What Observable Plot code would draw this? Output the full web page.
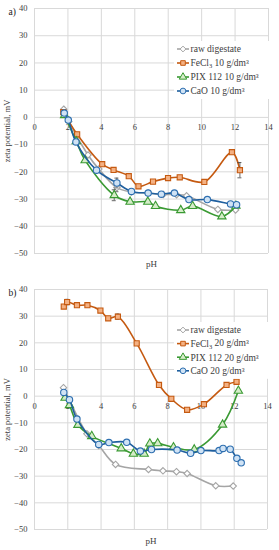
<!DOCTYPE html>
<html><head><meta charset="utf-8">
<script src="https://cdn.jsdelivr.net/npm/d3@7"></script>
<script src="https://cdn.jsdelivr.net/npm/@observablehq/plot@0.6"></script>
<style>
body{margin:0;background:#fff;width:279px;font-family:"Liberation Serif","Times New Roman",serif;}
.panel{position:relative;width:279px;}
.panel svg{display:block;}
.legend{position:absolute;left:0;top:0;pointer-events:none;}
</style></head><body>
<div id="a" class="panel"></div>
<div id="b" class="panel"></div>
<script>
// ---- tick values ----
const xTicks = [0, 2, 4, 6, 8, 10, 12, 14];
const yTicks = [-50, -40, -30, -20, -10, 0, 10, 20, 30, 40];

// ---- panel a) 10 g/dm3 ----
const legendA = ["raw digestate", "FeCl|3| 10 g/dm³", "PIX 112 10 g/dm³", "CaO 10 g/dm³"];
const rawA_pH   = [1.75, 2.05, 3.2, 3.85, 4.93, 5.8, 6.8, 7.7, 8.5, 9.1, 10.97, 12.03];
const rawA_zeta = [3.0, -1.5, -13.8, -19.0, -25.8, -27.4, -27.8, -28.3, -28.4, -28.8, -33.8, -34.0];
const feA_pH    = [1.72, 2.55, 4.05, 4.73, 5.64, 6.22, 7.09, 7.99, 8.69, 10.16, 11.81, 12.29];
const feA_zeta  = [1.9, -6.2, -17.2, -19.3, -21.6, -25.3, -23.6, -22.3, -22.0, -23.7, -12.8, -19.4];
const pixA_pH   = [1.8, 2.5, 3.03, 4.77, 5.72, 6.78, 7.24, 8.75, 9.46, 11.21, 12.05];
const pixA_zeta = [0.8, -8.8, -15.8, -28.6, -31.0, -31.0, -32.6, -34.1, -32.6, -36.4, -32.5];
const caoA_pH   = [1.78, 2.02, 2.48, 3.71, 4.93, 5.8, 6.8, 7.59, 8.37, 9.24, 10.34, 11.73, 12.09];
const caoA_zeta = [1.6, -1.0, -9.0, -19.4, -24.1, -27.2, -27.8, -28.2, -27.8, -30.2, -30.2, -31.8, -32.1];
// error bars a): [series index, pH, zeta, half-width]
const errA_series = [0, 1, 2, 3];
const errA_pH     = [4.93, 12.29, 4.77, 4.93];
const errA_zeta   = [-25.8, -19.4, -28.6, -24.1];
const errA_half   = [1.5, 2.8, 2.0, 1.8];

// ---- panel b) 20 g/dm3 ----
const legendB = ["raw digestate", "FeCl|3| 20 g/dm³", "PIX 112 20 g/dm³", "CaO 20 g/dm³"];
const rawB_pH   = [1.74, 2.1, 3.15, 3.86, 4.87, 6.85, 7.72, 8.53, 9.17, 10.89, 11.94];
const rawB_zeta = [3.2, -1.5, -14.1, -18.5, -25.6, -27.5, -28.0, -28.3, -29.0, -33.6, -33.7];
const feB_pH    = [1.76, 1.96, 2.55, 3.18, 3.96, 4.43, 5.01, 6.14, 7.48, 8.22, 9.17, 10.18, 11.54, 12.14];
const feB_zeta  = [33.6, 35.3, 34.1, 34.1, 32.1, 29.2, 29.8, 19.8, 4.2, -1.0, -5.1, -3.0, 4.2, 5.4];
const pixB_pH   = [1.84, 2.1, 2.61, 3.44, 5.21, 5.94, 6.59, 6.93, 7.4, 8.35, 9.6, 11.3, 12.25];
const pixB_zeta = [-0.6, -3.4, -10.8, -15.0, -19.6, -21.6, -21.6, -17.8, -17.7, -19.2, -20.0, -10.7, 2.0];
const caoB_pH   = [1.76, 2.1, 2.55, 3.86, 4.47, 5.54, 6.36, 7.03, 8.57, 9.38, 10.0, 11.09, 11.33, 11.76, 12.16, 12.42];
const caoB_zeta = [1.4, -1.3, -8.6, -18.1, -17.4, -17.3, -20.6, -20.0, -20.2, -21.4, -20.4, -20.4, -19.6, -19.9, -23.3, -25.0];
const errB_series = [1, 1];
const errB_pH     = [1.96, 5.01];
const errB_zeta   = [35.3, 29.8];
const errB_half   = [1.0, 1.0];

// ---- styles ----
const styles = [
  {line: "#a5a5a5", stroke: "#a5a5a5", fill: "#ffffff", symbol: "diamond2", r: 2.9},
  {line: "#c55a11", stroke: "#c55a11", fill: "#f4b183", symbol: "square", r: 2.9},
  {line: "#3a9a33", stroke: "#3a9a33", fill: "#d5ecc8", symbol: "triangle", r: 3.1},
  {line: "#1f5f9e", stroke: "#2e6fb0", fill: "#d0e3f5", symbol: "circle", r: 3.2}
];

function rows(xs, ys) { return xs.map((x, i) => ({pH: x, zeta: ys[i]})); }
function errRows(s, xs, ys, hs) { return xs.map((x, i) => ({s: s[i], pH: x, zeta: ys[i], h: hs[i]})); }

function panel(sel, cfg) {
  const marks = [
    Plot.gridX(xTicks, {stroke: "#d9d9d9", strokeOpacity: 1}),
    Plot.gridY(yTicks, {stroke: "#d9d9d9", strokeOpacity: 1}),
    Plot.axisY(yTicks, {tickSize: 0, tickPadding: 7, fontSize: 8.5, fill: "#404040",
      label: "zeta potential, mV", labelAnchor: "center", labelArrow: "none", labelOffset: 31}),
    Plot.text(xTicks, {x: d => d, y: d => 0, dy: 10, text: d => String(d), fontSize: 8.5, fill: "#404040"}),
    Plot.text([cfg.tag], {frameAnchor: "top-left", dx: -26, textAnchor: "start", fontSize: 9.5, fill: "#202020"}),
    Plot.text(["pH"], {frameAnchor: "bottom", dy: cfg.pHdy, fontSize: 9, fill: "#404040"})
  ];
  cfg.series.forEach((data, i) => {
    const st = styles[i];
    marks.push(Plot.line(data, {x: "pH", y: "zeta", curve: "catmull-rom", stroke: st.line, strokeWidth: 1.6}));
    const errs = cfg.errs.filter(e => e.s === i);
    marks.push(Plot.ruleX(errs, {x: "pH", y1: e => e.zeta - e.h, y2: e => e.zeta + e.h, stroke: "#404040", strokeWidth: 0.8}));
    marks.push(Plot.ruleY(errs, {y: e => e.zeta - e.h, x1: e => e.pH - 0.12, x2: e => e.pH + 0.12, stroke: "#404040", strokeWidth: 0.8}));
    marks.push(Plot.ruleY(errs, {y: e => e.zeta + e.h, x1: e => e.pH - 0.12, x2: e => e.pH + 0.12, stroke: "#404040", strokeWidth: 0.8}));
    marks.push(Plot.dot(data, {x: "pH", y: "zeta", symbol: st.symbol, r: st.r, fill: st.fill, stroke: st.stroke, strokeWidth: 1.1}));
  });
  const chart = Plot.plot({
    width: 279, height: cfg.height,
    marginLeft: 34, marginRight: cfg.marginRight, marginTop: cfg.marginTop, marginBottom: cfg.marginBottom,
    x: {type: "linear", domain: [0, 14], axis: null},
    y: {type: "linear", domain: [-50, 40], axis: null},
    style: {fontFamily: '"Liberation Serif","Times New Roman",serif', fontSize: "8.5px", color: "#404040", background: "#fff"},
    marks
  });
  const host = document.querySelector(sel);
  host.appendChild(chart);

  // legend overlay
  const lg = d3.select(host).append("svg").attr("class", "legend")
    .attr("width", 279).attr("height", cfg.height);
  const y0 = cfg.legendTop, step = cfg.legendStep;
  lg.append("rect").attr("x", 174).attr("y", y0 - 8).attr("width", 100).attr("height", step * 3 + 16).attr("fill", "#fff");
  cfg.legend.forEach((lab, i) => {
    const st = styles[i];
    const y = y0 + i * step;
    lg.append("line").attr("x1", 177).attr("x2", 189).attr("y1", y).attr("y2", y)
      .attr("stroke", st.line).attr("stroke-width", 1.6);
    const sym = {diamond2: d3.symbolDiamond2, square: d3.symbolSquare, triangle: d3.symbolTriangle, circle: d3.symbolCircle}[st.symbol];
    lg.append("path").attr("d", d3.symbol(sym, Math.PI * st.r * st.r * 0.8)())
      .attr("transform", `translate(183,${y})`)
      .attr("fill", st.fill).attr("stroke", st.stroke).attr("stroke-width", 1);
    const t = lg.append("text").attr("x", 190.5).attr("y", y).attr("dy", "0.35em")
      .attr("font-size", 9.5).attr("fill", "#404040")
      .attr("font-family", '"Liberation Serif","Times New Roman",serif');
    const parts = lab.split("|");
    t.append("tspan").text(parts[0]);
    if (parts.length > 1) {
      t.append("tspan").attr("font-size", 6.5).attr("dy", "0.25em").text(parts[1]);
      t.append("tspan").attr("dy", "-0.25em").text(parts[2]);
    }
  });
}

panel("#a", {
  tag: "a)", height: 275, marginTop: 8, marginBottom: 22, marginRight: 11, pHdy: 13,
  series: [rows(rawA_pH, rawA_zeta), rows(feA_pH, feA_zeta), rows(pixA_pH, pixA_zeta), rows(caoA_pH, caoA_zeta)],
  errs: errRows(errA_series, errA_pH, errA_zeta, errA_half),
  legend: legendA, legendTop: 49, legendStep: 14
});
panel("#b", {
  tag: "b)", height: 275, marginTop: 14, marginBottom: 21, marginRight: 12, pHdy: 14,
  series: [rows(rawB_pH, rawB_zeta), rows(feB_pH, feB_zeta), rows(pixB_pH, pixB_zeta), rows(caoB_pH, caoB_zeta)],
  errs: errRows(errB_series, errB_pH, errB_zeta, errB_half),
  legend: legendB, legendTop: 55, legendStep: 13.6
});
</script>
</body></html>
